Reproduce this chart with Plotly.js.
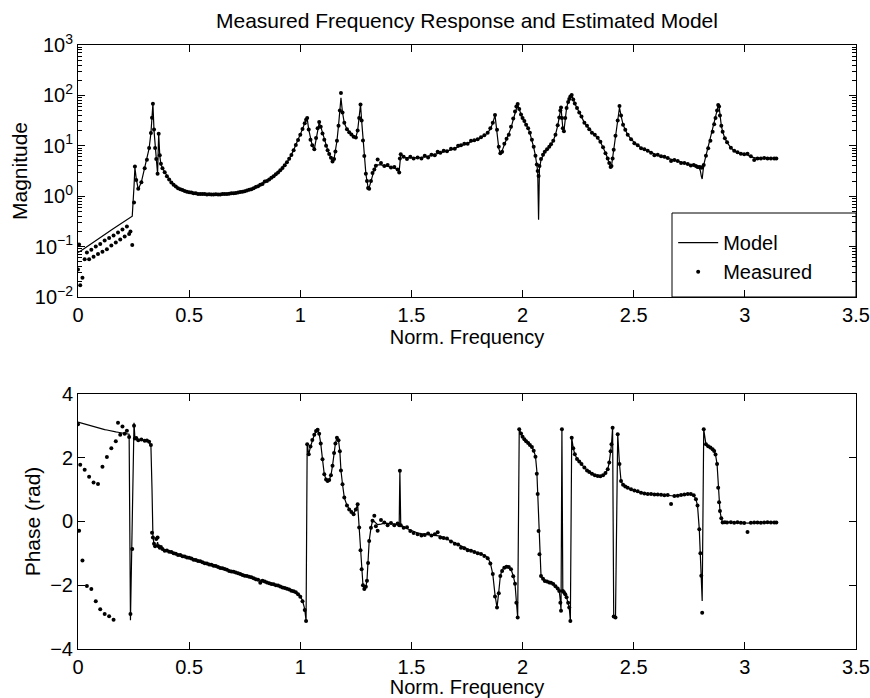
<!DOCTYPE html>
<html>
<head>
<meta charset="utf-8">
<script src="https://cdn.plot.ly/plotly-3.0.1.min.js"></script>
<style>html,body{margin:0;padding:0;background:#fff;}#chart{width:870px;height:698px;}</style>
</head>
<body>
<div id="chart"></div>
<script>
// ---------- DATA ----------
const freq = [
  0, 0.005, 0.01, 0.02, 0.03, 0.04, 0.05, 0.06, 0.07, 0.08, 0.09, 0.10, 0.11, 0.12, 0.13,
  0.14, 0.15, 0.16, 0.17, 0.18, 0.19, 0.20, 0.21, 0.22, 0.23, 0.236, 0.244, 0.252, 0.256, 0.262,
  0.271, 0.285, 0.30, 0.31, 0.32, 0.328, 0.333, 0.337, 0.342, 0.347, 0.352, 0.358, 0.363, 0.368, 0.373,
  0.38, 0.39, 0.40, 0.41, 0.42, 0.43, 0.44, 0.45, 0.46, 0.47,
  0.48, 0.49, 0.50, 0.51, 0.52, 0.53, 0.54, 0.55, 0.56, 0.57,
  0.58, 0.59, 0.60, 0.61, 0.62, 0.63, 0.64, 0.65, 0.66, 0.67,
  0.68, 0.69, 0.70, 0.71, 0.72, 0.73, 0.74, 0.75, 0.76, 0.77,
  0.78, 0.79, 0.80, 0.81, 0.82, 0.83, 0.84, 0.85, 0.86, 0.87,
  0.88, 0.89, 0.90, 0.91, 0.92, 0.93, 0.94, 0.95, 0.96, 0.97,
  0.98, 0.99, 1.00, 1.01, 1.02, 1.026, 1.031, 1.038,
  1.046, 1.054, 1.063, 1.071, 1.078, 1.085, 1.092, 1.10, 1.108, 1.116,
  1.123, 1.13, 1.138, 1.145, 1.152, 1.158, 1.165, 1.172, 1.178, 1.183,
  1.19, 1.198, 1.21, 1.22, 1.23, 1.24, 1.25, 1.258, 1.265, 1.271,
  1.276, 1.282, 1.288, 1.295, 1.30, 1.305, 1.31, 1.318, 1.325, 1.333, 1.34,
  1.348, 1.363, 1.378, 1.393, 1.408, 1.423, 1.438, 1.445, 1.448, 1.452,
  1.465, 1.48, 1.495, 1.51, 1.528, 1.545, 1.56, 1.575, 1.59, 1.605,
  1.618, 1.63, 1.645, 1.66, 1.678, 1.695, 1.71, 1.723, 1.738, 1.753,
  1.768, 1.783, 1.798, 1.813, 1.828, 1.843, 1.855, 1.866, 1.876, 1.885,
  1.893, 1.90, 1.908, 1.918, 1.928, 1.938, 1.948, 1.958, 1.966, 1.972, 1.978,
  1.985, 1.993, 2.0, 2.008, 2.016, 2.025, 2.033, 2.042, 2.05, 2.058,
  2.064, 2.068, 2.072, 2.076, 2.083, 2.092, 2.10, 2.11, 2.12, 2.128,
  2.138, 2.148, 2.158, 2.165, 2.17, 2.173, 2.177, 2.181, 2.186, 2.192,
  2.198, 2.205, 2.21, 2.215, 2.221, 2.228, 2.235, 2.245, 2.255, 2.265,
  2.278, 2.29, 2.30, 2.312, 2.325, 2.338, 2.35, 2.362, 2.373, 2.383,
  2.39, 2.396, 2.40, 2.405, 2.41, 2.418, 2.428, 2.436, 2.443,
  2.452, 2.462, 2.473, 2.488, 2.503, 2.518, 2.533, 2.548, 2.563, 2.578,
  2.593, 2.608, 2.623, 2.638, 2.653, 2.668, 2.683, 2.698, 2.713, 2.728,
  2.743, 2.757, 2.77, 2.78, 2.787, 2.795, 2.80, 2.804, 2.808, 2.815,
  2.825, 2.835, 2.845, 2.855, 2.862, 2.868, 2.875, 2.88, 2.884, 2.888,
  2.894, 2.90, 2.91, 2.92, 2.937, 2.952, 2.967, 2.982, 2.997, 3.012,
  3.027, 3.042, 3.057, 3.072, 3.087, 3.102, 3.117, 3.132, 3.1416
];

const magModel = [
  0.076, 0.078, 0.081, 0.087, 0.093, 0.100, 0.107, 0.115, 0.123, 0.132, 0.141, 0.151, 0.162, 0.174, 0.186,
  0.200, 0.214, 0.229, 0.245, 0.263, 0.282, 0.302, 0.324, 0.347, 0.372, 0.385, 0.40, 1.58, 3.7, 2.24,
  1.37, 1.9, 3.55, 5.25, 8.9, 17.8, 35.5, 68, 20, 8.9, 5.75, 2.8, 17.4, 6.3, 4.3,
  3.63, 3.0, 2.51, 2.14, 1.86, 1.70, 1.55, 1.45, 1.38, 1.32,
  1.26, 1.23, 1.20, 1.17, 1.15, 1.13, 1.12, 1.11, 1.10, 1.09,
  1.09, 1.08, 1.08, 1.08, 1.08, 1.08, 1.09, 1.09, 1.10, 1.11,
  1.12, 1.13, 1.15, 1.16, 1.18, 1.20, 1.23, 1.26, 1.29, 1.33,
  1.38, 1.44, 1.51, 1.58, 1.66, 1.76, 1.86, 2.00, 2.15, 2.32,
  2.51, 2.72, 2.95, 3.25, 3.63, 4.10, 4.68, 5.50, 6.61, 8.20,
  10.5, 13.0, 16.6, 21.4, 28.2, 33, 35, 20.9,
  13.2, 10.0, 8.5, 14.1, 22.4, 28.8, 24.0, 17.8, 13.2, 10.0,
  8.3, 6.9, 5.75, 5.0, 5.5, 7.6, 12.6, 25.1, 50.1, 89.1,
  45.7, 28.2, 21.4, 18.6, 16.6, 15.1, 14.8, 20.0, 35.5, 66.1,
  31.6, 12.6, 6.3, 2.8, 2.0, 1.5, 1.48, 2.0, 2.8, 3.4, 4.0,
  4.17, 4.17, 3.98, 3.89, 3.80, 3.63, 3.39, 3.16, 5.01, 6.76,
  5.89, 5.75, 5.75, 5.75, 5.75, 5.89, 6.03, 6.17, 6.46, 6.76,
  7.08, 7.24, 7.59, 7.94, 8.32, 8.91, 9.55, 10.0, 10.5, 11.2,
  12.0, 12.6, 13.5, 14.5, 15.8, 18.2, 21.4, 28.2, 40.7, 20.0,
  8.91, 7.08, 7.94, 10.5, 13.2, 16.6, 22.4, 33.1, 45.7, 58.9, 66.1,
  52.5, 41.7, 35.5, 30.2, 26.3, 22.4, 17.8, 13.2, 9.33, 6.31,
  4.17, 3.16, 0.34, 3.55, 5.25, 6.61, 7.59, 8.51, 9.55, 10.7,
  12.6, 16.6, 25.1, 35.5, 47.9, 57.5, 35.5, 22.4, 19.5, 35.5,
  56.2, 74.1, 85.1, 95.5, 102, 83.2, 69.2, 56.2, 45.7, 38.0,
  28.8, 24.5, 21.4, 18.6, 16.2, 14.5, 12.0, 9.55, 7.24, 5.62,
  4.57, 3.72, 3.98, 5.62, 8.32, 15.8, 31.6, 57.5, 39.8,
  26.3, 20.9, 16.6, 13.5, 11.5, 10.0, 9.12, 8.51, 7.76, 7.24,
  6.76, 6.46, 6.17, 5.89, 5.62, 5.37, 5.13, 4.90, 4.68, 4.47,
  4.27, 4.17, 4.07, 3.98, 3.89, 3.63, 3.16, 2.51, 2.19, 4.17,
  6.31, 8.91, 12.6, 19.1, 26.9, 35.5, 50.1, 61.7, 60.3, 39.8,
  25.1, 19.1, 14.1, 11.7, 9.12, 7.94, 7.24, 6.92, 6.76, 6.61,
  6.03, 5.75, 5.62, 5.62, 5.62, 5.62, 5.62, 5.62, 5.62
];

const magMeasured = [
  0.035, 0.11, 0.017, 0.024, 0.056, 0.076, 0.056, 0.087, 0.063, 0.100, 0.071, 0.112, 0.079, 0.132, 0.089,
  0.148, 0.105, 0.166, 0.120, 0.191, 0.138, 0.219, 0.158, 0.251, 0.178, 0.20, 0.107, 0.75, 3.9, 2.1,
  1.40, 1.9, 3.6, 5.3, 9.0, 18, 36, 68, 21, 9.0, 5.5, 2.8, 17.4, 6.5, 4.4,
  3.6, 3.0, 2.5, 2.15, 1.87, 1.69, 1.56, 1.44, 1.38, 1.32,
  1.27, 1.22, 1.20, 1.18, 1.15, 1.14, 1.11, 1.11, 1.10, 1.10,
  1.08, 1.09, 1.08, 1.08, 1.09, 1.08, 1.08, 1.10, 1.11, 1.11,
  1.12, 1.14, 1.14, 1.16, 1.19, 1.21, 1.23, 1.26, 1.30, 1.34,
  1.37, 1.44, 1.52, 1.58, 1.68, 1.75, 1.95, 2.01, 2.14, 2.33,
  2.50, 2.71, 2.96, 3.27, 3.62, 4.10, 4.70, 5.52, 6.60, 8.2,
  10.4, 13.1, 16.5, 21.5, 28, 33, 35.5, 21,
  13.2, 10.2, 8.5, 14.3, 22.4, 29.5, 24.0, 17.5, 13.2, 10.0,
  8.2, 6.9, 5.8, 4.9, 5.5, 7.7, 12.6, 25.1, 50.1, 112,
  45.7, 28.5, 21.2, 18.6, 16.8, 15.1, 14.6, 20.0, 35.5, 66.1,
  31.6, 12.8, 6.3, 2.8, 2.0, 1.45, 1.41, 2.0, 2.9, 3.4, 4.0,
  5.37, 4.57, 3.98, 4.17, 3.72, 3.80, 3.39, 2.95, 5.62, 6.76,
  6.03, 5.50, 6.03, 5.62, 5.89, 5.62, 6.31, 5.89, 6.61, 6.46,
  7.59, 7.24, 7.94, 7.76, 8.71, 8.71, 10.0, 10.2, 11.0, 11.0,
  12.6, 12.9, 13.5, 14.8, 16.2, 18.2, 22.4, 28.8, 40.7, 20.9,
  9.55, 7.08, 7.59, 11.0, 13.8, 16.6, 24.0, 34.7, 47.9, 60.3, 67.6,
  53.7, 41.7, 35.5, 30.9, 26.3, 22.4, 18.2, 13.2, 9.55, 6.31,
  4.27, 3.16, 2.51, 3.98, 5.50, 6.61, 7.59, 8.51, 9.55, 10.7,
  12.6, 16.6, 25.7, 36.3, 50.1, 57.5, 35.5, 22.4, 19.5, 35.5,
  56.2, 74.1, 85.1, 95.5, 102, 83.2, 69.2, 56.2, 45.7, 38.0,
  28.8, 25.1, 21.4, 18.2, 16.6, 14.5, 12.0, 9.33, 7.08, 5.62,
  4.57, 3.80, 3.98, 5.62, 8.32, 15.8, 31.6, 61.7, 39.8,
  26.3, 20.9, 16.6, 13.5, 11.2, 10.2, 8.91, 8.51, 7.94, 7.24,
  6.46, 6.61, 6.17, 6.03, 5.75, 5.01, 5.25, 5.01, 4.57, 4.57,
  4.37, 4.07, 4.17, 3.98, 3.80, 3.80, 3.72, 3.72, 3.72, 4.17,
  6.31, 8.91, 12.6, 19.1, 26.9, 35.5, 50.1, 64.6, 60.3, 39.8,
  25.1, 19.1, 14.1, 11.7, 9.12, 7.94, 7.41, 6.92, 6.76, 6.92,
  6.17, 5.25, 5.62, 5.62, 5.75, 5.62, 5.62, 5.62, 5.62
];

const phaseModel = [
  3.12, 3.11, 3.10, 3.07, 3.05, 3.02, 3.00, 2.98, 2.96, 2.94, 2.93, 2.92, 2.90, 2.88, 2.87,
  2.85, 2.84, 2.82, 2.81, 2.80, 2.79, 2.78, 2.77, 2.76, 2.74, -3.10, 0.0, 3.10, 2.62, 2.58,
  2.56, 2.55, 2.55, 2.53, 2.48, 2.38, 1.0, -0.45, -0.72, -0.78, -0.78, -0.65, -0.80, -0.80, -0.81,
  -0.88, -0.90, -0.92, -0.94, -0.97, -0.99, -1.01, -1.04, -1.06, -1.08,
  -1.10, -1.12, -1.14, -1.17, -1.19, -1.21, -1.23, -1.26, -1.28, -1.30,
  -1.32, -1.34, -1.36, -1.38, -1.41, -1.43, -1.45, -1.47, -1.50, -1.52,
  -1.54, -1.56, -1.58, -1.60, -1.63, -1.65, -1.67, -1.69, -1.71, -1.74,
  -1.76, -1.78, -1.80, -1.82, -1.84, -1.87, -1.89, -1.91, -1.93, -1.95,
  -1.97, -2.00, -2.02, -2.04, -2.06, -2.08, -2.11, -2.13, -2.16, -2.19,
  -2.22, -2.27, -2.35, -2.48, -2.75, -3.12, 2.42, 2.11,
  2.35, 2.55, 2.72, 2.84, 2.88, 2.75, 2.45, 1.95, 1.48, 1.32,
  1.27, 1.30, 1.45, 1.75, 2.15, 2.45, 2.63, 2.55, 2.20, 1.60,
  1.17, 0.75, 0.50, 0.38, 0.30, 0.25, 0.38, 0.54, -0.19, -0.90,
  -1.50, -2.00, -2.12, -2.05, -1.86, -1.30, -0.61, -0.20, 0.02, 0.00, -0.05,
  -0.10, -0.08, -0.05, -0.06, -0.07, -0.08, -0.08, -0.10, 1.59, -0.13,
  -0.18, -0.22, -0.27, -0.31, -0.36, -0.38, -0.39, -0.40, -0.41, -0.42,
  -0.43, -0.46, -0.50, -0.55, -0.61, -0.67, -0.73, -0.78, -0.82, -0.87,
  -0.91, -0.94, -0.97, -1.01, -1.06, -1.13, -1.30, -1.65, -2.30, -2.70,
  -2.20, -1.71, -1.50, -1.45, -1.42, -1.43, -1.50, -1.70, -1.95, -2.50, -3.01,
  2.89, 2.75, 2.66, 2.58, 2.52, 2.46, 2.41, 2.35, 2.22, 2.05,
  1.60, 0.86, -0.20, -1.03, -1.71, -1.80, -1.85, -1.88, -1.90, -1.92,
  -1.96, -2.02, -2.10, -2.18, -2.50, -2.80, 2.89, -2.18, -2.20, -2.26,
  -2.38, -2.55, -2.70, -3.12, 2.63, 2.30, 2.11, 1.97, 1.88, 1.80,
  1.69, 1.62, 1.55, 1.50, 1.46, 1.43, 1.43, 1.45, 1.52, 1.64,
  1.85, 2.20, 2.42, 2.94, -2.98, -3.01, 2.74, 1.80, 1.27,
  1.15, 1.10, 1.06, 1.01, 0.96, 0.92, 0.90, 0.88, 0.87, 0.86,
  0.86, 0.85, 0.84, 0.83, 0.82, 0.80, 0.80, 0.81, 0.83, 0.85,
  0.86, 0.86, 0.82, 0.70, 0.50, -0.24, -1.00, -1.70, -2.49, 2.89,
  2.42, 2.36, 2.32, 2.27, 2.21, 2.10, 1.80, 1.06, 0.60, 0.33,
  0.10, -0.03, -0.02, -0.02, -0.02, -0.03, -0.03, -0.04, -0.04, -0.05,
  -0.04, -0.04, -0.03, -0.03, -0.03, -0.03, -0.03, -0.03, -0.03
];

const phaseMeasured = [
  3.05, -0.29, 1.78, -1.22, 1.62, -2.02, 1.40, -2.12, 1.22, -2.50, 1.18, -2.75, 1.72, -2.90, 2.02,
  -2.97, 2.30, -3.08, 2.52, 3.10, 2.72, 2.98, 2.75, 2.85, 2.65, -2.90, -0.86, 3.0, 2.60, 2.62,
  2.55, 2.57, 2.53, 2.54, 2.50, 2.40, -0.35, -0.5, -0.70, -0.78, -0.55, -0.50, -0.78, -0.82, -0.80,
  -0.86, -0.92, -0.91, -0.95, -0.96, -1.00, -1.01, -1.05, -1.05, -1.09,
  -1.10, -1.13, -1.14, -1.16, -1.20, -1.21, -1.24, -1.25, -1.28, -1.31,
  -1.32, -1.35, -1.36, -1.39, -1.40, -1.43, -1.46, -1.47, -1.49, -1.51,
  -1.55, -1.57, -1.58, -1.60, -1.62, -1.65, -1.68, -1.70, -1.71, -1.73,
  -1.75, -1.78, -1.81, -1.83, -1.92, -1.86, -1.88, -1.91, -1.94, -1.96,
  -1.97, -2.00, -2.01, -2.04, -2.07, -2.09, -2.11, -2.13, -2.17, -2.19,
  -2.22, -2.28, -2.36, -2.50, -2.78, -3.12, 2.42, 2.11,
  2.35, 2.56, 2.72, 2.84, 2.88, 2.75, 2.45, 1.95, 1.48, 1.32,
  1.27, 1.30, 1.45, 1.75, 2.15, 2.45, 2.63, 2.55, 2.20, 1.60,
  1.17, 0.75, 0.50, 0.38, 0.30, 0.23, 0.38, 0.54, -0.19, -0.90,
  -1.50, -2.00, -2.12, -2.05, -1.86, -1.30, -0.61, -0.20, 0.02, 0.18, -0.15,
  -0.29, 0.05, -0.03, -0.12, -0.05, -0.12, -0.06, -0.12, 1.59, -0.12,
  -0.20, -0.18, -0.30, -0.36, -0.40, -0.44, -0.42, -0.38, -0.44, -0.40,
  -0.34, -0.50, -0.52, -0.53, -0.63, -0.70, -0.72, -0.82, -0.84, -0.90,
  -0.92, -0.96, -1.00, -1.02, -1.08, -1.15, -1.32, -1.65, -2.35, -2.70,
  -2.25, -1.71, -1.55, -1.45, -1.42, -1.43, -1.50, -1.72, -1.95, -2.55, -3.01,
  2.89, 2.76, 2.66, 2.58, 2.52, 2.46, 2.40, 2.34, 2.22, 2.03,
  1.50, 0.86, -0.30, -1.03, -1.71, -1.80, -1.87, -1.88, -1.91, -1.92,
  -1.96, -2.03, -2.10, -2.18, -2.55, -2.80, 2.89, -2.18, -2.22, -2.28,
  -2.38, -2.55, -2.70, -3.12, 2.63, 2.30, 2.11, 1.96, 1.88, 1.80,
  1.69, 1.60, 1.55, 1.50, 1.45, 1.43, 1.42, 1.45, 1.52, 1.64,
  1.85, 2.20, 2.42, 2.94, -2.98, -3.01, 2.74, 1.80, 1.27,
  1.15, 1.10, 1.06, 1.01, 0.97, 0.95, 0.90, 0.88, 0.86, 0.86,
  0.85, 0.85, 0.84, 0.82, 0.83, 0.55, 0.80, 0.81, 0.83, 0.85,
  0.86, 0.86, 0.82, 0.70, 0.50, -0.24, -1.00, -1.70, -2.86, 2.89,
  2.42, 2.36, 2.32, 2.27, 2.21, 2.10, 1.80, 1.06, 0.60, 0.33,
  0.10, -0.03, -0.02, -0.03, -0.02, -0.04, -0.02, -0.04, -0.05, -0.33,
  -0.04, -0.03, -0.03, -0.04, -0.03, -0.02, -0.03, -0.03, -0.03
];

const xTicks = [0, 0.5, 1, 1.5, 2, 2.5, 3, 3.5];
const magTickVals = [0.01, 0.1, 1, 10, 100, 1000];
const magTickText = ['10<sup>\u22122</sup>', '10<sup>\u22121</sup>', '10<sup>0</sup>', '10<sup>1</sup>', '10<sup>2</sup>', '10<sup>3</sup>'];
const phaseTicks = [-4, -2, 0, 2, 4];

// ---------- FIGURE ----------
const FONT = 'Liberation Sans, Arial, Helvetica, sans-serif';
const minorVals = [];
for (let e = -2; e < 3; e++) for (let d = 2; d <= 9; d++) minorVals.push(d * Math.pow(10, e));

const axisBase = {
  showline: true, linecolor: '#000', linewidth: 1, mirror: 'allticks',
  ticks: 'inside', ticklen: 7, tickwidth: 1, tickcolor: '#000',
  showgrid: false, zeroline: false,
  tickfont: {family: FONT, size: 20, color: '#000'}
};

const traces = [
  {x: freq, y: magModel, xaxis: 'x', yaxis: 'y', type: 'scatter', mode: 'lines',
   name: 'Model', line: {color: '#000', width: 1.2}},
  {x: freq, y: magMeasured, xaxis: 'x', yaxis: 'y', type: 'scatter', mode: 'markers',
   name: 'Measured', marker: {color: '#000', size: 4}},
  {x: freq, y: phaseModel, xaxis: 'x2', yaxis: 'y2', type: 'scatter', mode: 'lines',
   name: 'Model', showlegend: false, line: {color: '#000', width: 1.2}},
  {x: freq, y: phaseMeasured, xaxis: 'x2', yaxis: 'y2', type: 'scatter', mode: 'markers',
   name: 'Measured', showlegend: false, marker: {color: '#000', size: 4}}
];

const layout = {
  width: 870, height: 698,
  paper_bgcolor: '#fff', plot_bgcolor: '#fff',
  margin: {l: 78, r: 14, t: 45, b: 49},
  font: {family: FONT, color: '#000', size: 20},
  showlegend: true,
  title: {text: 'Measured Frequency Response and Estimated Model',
          font: {family: FONT, size: 21, color: '#000'},
          x: 0.5, xanchor: 'center', xref: 'paper',
          y: 0.971, yanchor: 'middle', yref: 'container'},
  xaxis: Object.assign({}, axisBase, {
    domain: [0, 1], anchor: 'y', range: [0, 3.5], tickvals: xTicks,
    title: {text: 'Norm. Frequency', font: {family: FONT, size: 20}, standoff: 4}
  }),
  yaxis: Object.assign({}, axisBase, {
    domain: [0.5828, 1], anchor: 'x', type: 'log', range: [-2, 3],
    tickvals: magTickVals, ticktext: magTickText,
    minor: {tickvals: minorVals, ticks: 'inside', ticklen: 4, tickcolor: '#000', showgrid: false},
    title: {text: 'Magnitude', font: {family: FONT, size: 21}, standoff: 1}
  }),
  xaxis2: Object.assign({}, axisBase, {
    domain: [0, 1], anchor: 'y2', range: [0, 3.5], tickvals: xTicks,
    title: {text: 'Norm. Frequency', font: {family: FONT, size: 20}, standoff: 4}
  }),
  yaxis2: Object.assign({}, axisBase, {
    domain: [0, 0.4222], anchor: 'x2', range: [-4, 4], tickvals: phaseTicks,
    title: {text: 'Phase (rad)', font: {family: FONT, size: 21}, standoff: 3}
  }),
  legend: {
    x: 0.765, xanchor: 'left', xref: 'paper',
    y: 0.705, yanchor: 'top', yref: 'paper',
    bgcolor: 'rgba(0,0,0,0)', borderwidth: 0,
    font: {family: FONT, size: 20, color: '#000'},
    itemwidth: 40, tracegroupgap: 0
  },
  shapes: [
    {type: 'rect', xref: 'x domain', yref: 'y domain', x0: 0.7635, x1: 1, y0: 0, y1: 0.3333,
     line: {color: '#000', width: 1}, fillcolor: '#fff', layer: 'below'}
  ]
};

Plotly.newPlot('chart', traces, layout, {staticPlot: true, displayModeBar: false});
</script>
</body>
</html>
